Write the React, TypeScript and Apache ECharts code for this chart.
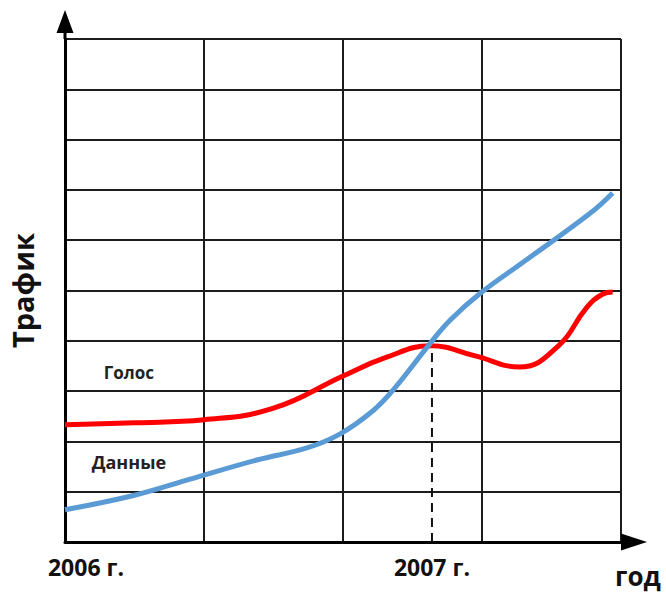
import React, { useEffect, useRef } from "react";
import * as echarts from "echarts";

const yearLabels = ["2006 г.", "2007 г."];
const yearPositions = [0, 2.64];
const xAxisName = "год";
const yAxisName = "Трафик";
const voiceName = "Голос";
const dataName = "Данные";

const voiceSeries: [number, number][] = [
  [0, 2.33], [0.5, 2.37], [1.0, 2.43], [1.5, 2.66], [2.0, 3.3], [2.3, 3.66],
  [2.63, 3.9], [2.95, 3.7], [3.27, 3.48], [3.55, 3.9], [3.75, 4.65], [3.87, 4.93],
  [3.94, 4.97],
];
const dataSeries: [number, number][] = [
  [0, 0.64], [0.5, 0.93], [0.9, 1.25], [1.38, 1.63], [1.74, 1.87], [1.98, 2.15],
  [2.22, 2.62], [2.36, 3.02], [2.63, 3.96], [2.77, 4.41], [2.99, 4.95], [3.29, 5.55],
  [3.78, 6.54], [3.94, 6.94],
];
const crossPoint: [number, number] = [2.64, 3.94];
const voiceLabelPos: [number, number] = [0.46, 3.36];
const dataLabelPos: [number, number] = [0.46, 1.59];

const FONT = "'Open Sans', 'DejaVu Sans', sans-serif";

export default function App() {
  const ref = useRef<HTMLDivElement>(null);
  useEffect(() => {
    if (!ref.current) return;
    const chart = echarts.init(ref.current, undefined, { renderer: "svg" });
    const yArrow = "path://M8.5,0 L17,23 L10,23 L10,29 L7,29 L7,23 L0,23 Z";
    chart.setOption({
      animation: false,
      backgroundColor: "#ffffff",
      grid: {
        left: 65,
        top: 39,
        width: 556,
        height: 503,
        containLabel: false,
        outerBoundsMode: "none",
      },
      xAxis: {
        type: "value",
        min: 0,
        max: 4,
        interval: 1,
        name: xAxisName,
        nameLocation: "end",
        nameGap: -6,
        nameTextStyle: {
          fontFamily: FONT,
          fontSize: 26,
          fontWeight: "bold",
          color: "#111",
          verticalAlign: "top",
          align: "left",
          lineHeight: 68,
        },
        axisLine: {
          show: true,
          lineStyle: { color: "#000", width: 3 },
          symbol: ["none", "triangle"],
          symbolSize: [17, 26],
          symbolOffset: [0, 13],
        },
        axisTick: { show: false },
        axisLabel: {
          show: true,
          customValues: yearPositions,
          margin: 13,
          fontFamily: FONT,
          fontSize: 23,
          fontWeight: "bold",
          color: "#111",
          formatter: (v: number) => {
            const i = yearPositions.indexOf(v);
            if (i === 0) return "{a|" + yearLabels[0] + "}";
            return yearLabels[i] ?? "";
          },
          rich: {
            a: {
              fontFamily: FONT,
              fontSize: 23,
              fontWeight: "bold",
              color: "#111",
              padding: [0, 0, 0, 42],
            },
          },
        },
        splitLine: { show: true, lineStyle: { color: "#1c1c1c", width: 2 } },
      },
      yAxis: {
        type: "value",
        min: 0,
        max: 10,
        interval: 1,
        name: yAxisName,
        nameLocation: "middle",
        nameGap: 28,
        nameTextStyle: {
          fontFamily: FONT,
          fontSize: 29,
          fontWeight: "bold",
          color: "#111",
        },
        axisLine: {
          show: true,
          lineStyle: { color: "#000", width: 3 },
          symbol: ["none", yArrow],
          symbolSize: [17, 29],
          symbolOffset: [0, 14.5],
        },
        axisTick: { show: false },
        axisLabel: { show: false },
        splitLine: { show: true, lineStyle: { color: "#1c1c1c", width: 2 } },
      },
      series: [
        {
          type: "line",
          data: [[crossPoint[0], 0], crossPoint],
          symbol: "none",
          lineStyle: { color: "#111", width: 2, type: [9, 6] },
          z: 3,
        },
        {
          type: "line",
          name: voiceName,
          data: voiceSeries,
          smooth: 0.45,
          symbol: "none",
          lineStyle: { color: "#ff0000", width: 5 },
          z: 4,
          markPoint: {
            symbol: "circle",
            symbolSize: 0,
            data: [{ coord: voiceLabelPos, value: voiceName }],
            label: {
              show: true,
              position: "inside",
              formatter: voiceName,
              fontFamily: FONT,
              fontSize: 17,
              fontWeight: "bold",
              color: "#222",
            },
          },
        },
        {
          type: "line",
          name: dataName,
          data: dataSeries,
          smooth: 0.4,
          symbol: "none",
          lineStyle: { color: "#5b9bd5", width: 5 },
          z: 5,
          markPoint: {
            symbol: "circle",
            symbolSize: 0,
            data: [{ coord: dataLabelPos, value: dataName }],
            label: {
              show: true,
              position: "inside",
              formatter: dataName,
              fontFamily: FONT,
              fontSize: 18,
              fontWeight: "bold",
              color: "#222",
            },
          },
        },
      ],
    });
    return () => chart.dispose();
  }, []);
  return (
    <div
      ref={ref}
      style={{ position: "fixed", left: 0, top: 0, width: 666, height: 593, background: "#fff" }}
    />
  );
}
